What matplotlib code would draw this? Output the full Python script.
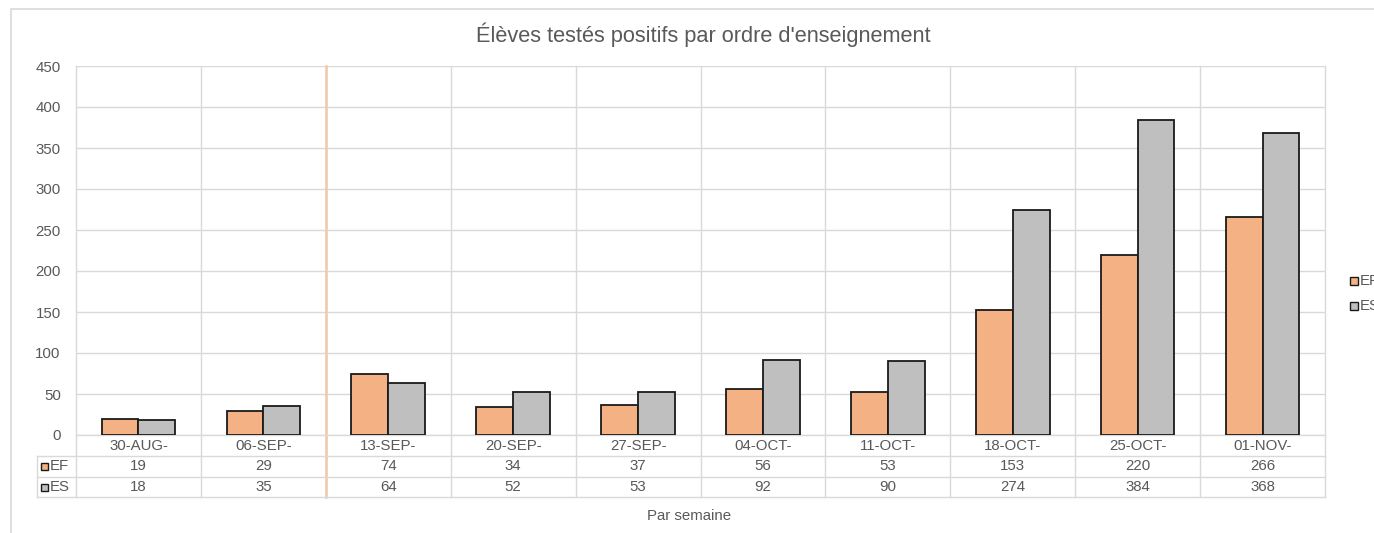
import matplotlib.pyplot as plt
import matplotlib.transforms as mtransforms
from matplotlib.patches import Rectangle
import numpy as np

plt.rcParams["font.family"] = ["Liberation Sans", "DejaVu Sans"]

# Data
weeks = ["30-AUG-", "06-SEP-", "13-SEP-", "20-SEP-", "27-SEP-",
         "04-OCT-", "11-OCT-", "18-OCT-", "25-OCT-", "01-NOV-"]
ef_values = [19, 29, 74, 34, 37, 56, 53, 153, 220, 266]
es_values = [18, 35, 64, 52, 53, 92, 90, 274, 384, 368]
series_names = ["EF", "ES"]
y_ticks = list(range(0, 451, 50))

ef_color = "#F4B183"
es_color = "#BFBFBF"
edge_color = "#1A1A1A"
grid_color = "#D9D9D9"
text_color = "#595959"
fs = 10.8

W, H = 1374, 533
fig = plt.figure(figsize=(W / 100, H / 100), dpi=100)
fig.patch.set_facecolor("white")

# chart border (Excel chart area)
fig.add_artist(Rectangle((11 / W, -0.1), 1.2, (H - 9) / H + 0.1,
                         transform=fig.transFigure, fill=False,
                         edgecolor="#D9D9D9", linewidth=1.2))

# plot area in pixels
left, right, top, bottom = 76, 1325, 66, 435
ax = fig.add_axes([left / W, (H - bottom) / H, (right - left) / W, (bottom - top) / H])

x = np.arange(len(weeks))
bw = 0.295
ax.bar(x - bw / 2, ef_values, bw, color=ef_color, edgecolor=edge_color,
       linewidth=1.3, zorder=3, label=series_names[0])
ax.bar(x + bw / 2, es_values, bw, color=es_color, edgecolor=edge_color,
       linewidth=1.3, zorder=3, label=series_names[1])

ax.set_xlim(-0.5, len(weeks) - 0.5)
ax.set_ylim(0, 450)
ax.set_yticks(y_ticks)
ax.tick_params(axis="y", length=0, pad=11, labelsize=fs, labelcolor=text_color)
ax.set_xticks([])
for s in ax.spines.values():
    s.set_visible(False)
ax.yaxis.grid(True, color=grid_color, linewidth=1, zorder=0)
ax.set_axisbelow(True)

# data table below the axes
px_y = 1.0 / (bottom - top)  # axes fraction per pixel
trans = mtransforms.blended_transform_factory(ax.transData, ax.transAxes)
row_edges = [0, -21 * px_y, -42 * px_y, -62 * px_y]
px_x = len(weeks) / (right - left)
key_left = -0.5 - (left - 37) * px_x

# vertical boundaries through plot and table
for b in np.arange(-0.5, len(weeks)):
    ax.plot([b, b], [row_edges[-1], 1], transform=trans, color=grid_color,
            linewidth=1, clip_on=False, zorder=1)
ax.plot([1.5, 1.5], [row_edges[-1], 1], transform=trans, color="#F4C7A8",
        linewidth=1.8, clip_on=False, zorder=2)

# horizontal lines of table
ax.plot([-0.5, len(weeks) - 0.5], [0, 0], transform=trans, color=grid_color,
        linewidth=1, clip_on=False)
for ye in row_edges[1:]:
    ax.plot([key_left, len(weeks) - 0.5], [ye, ye], transform=trans,
            color=grid_color, linewidth=1, clip_on=False)
ax.plot([key_left, key_left], [row_edges[1], row_edges[-1]], transform=trans,
        color=grid_color, linewidth=1, clip_on=False)

rows = [weeks, ef_values, es_values]
for r, vals in enumerate(rows):
    yc = (row_edges[r] + row_edges[r + 1]) / 2
    for i, v in enumerate(vals):
        ax.text(i, yc, str(v), transform=trans, ha="center", va="center",
                fontsize=fs, color=text_color, clip_on=False)

# legend keys in table
for r, (name, col) in enumerate(zip(series_names, [ef_color, es_color])):
    yc = (row_edges[r + 1] + row_edges[r + 2]) / 2
    ax.add_patch(Rectangle((key_left + 4 * px_x, yc - 3.5 * px_y), 7 * px_x, 7 * px_y,
                           transform=trans, facecolor=col, edgecolor=edge_color,
                           linewidth=1, clip_on=False))
    ax.text(key_left + 13 * px_x, yc, name, transform=trans, ha="left",
            va="center", fontsize=fs, color=text_color, clip_on=False)

# legend on the right (cut by the edge as in the source)
for name, col, yp in zip(series_names, [ef_color, es_color], [281, 306]):
    fig.add_artist(Rectangle((1350 / W, (H - yp - 4) / H), 8 / W, 8 / H,
                             transform=fig.transFigure, facecolor=col,
                             edgecolor=edge_color, linewidth=1))
    fig.text(1360 / W, (H - yp) / H, name, ha="left", va="center",
             fontsize=fs, color=text_color)

fig.text(703 / W, (H - 35) / H, "Élèves testés positifs par ordre d'enseignement",
         ha="center", va="center", fontsize=15.7, color=text_color)
fig.text(689 / W, (H - 516) / H, "Par semaine", ha="center", va="center",
         fontsize=fs, color=text_color)

fig.savefig("out.png", dpi=100, facecolor="white")
